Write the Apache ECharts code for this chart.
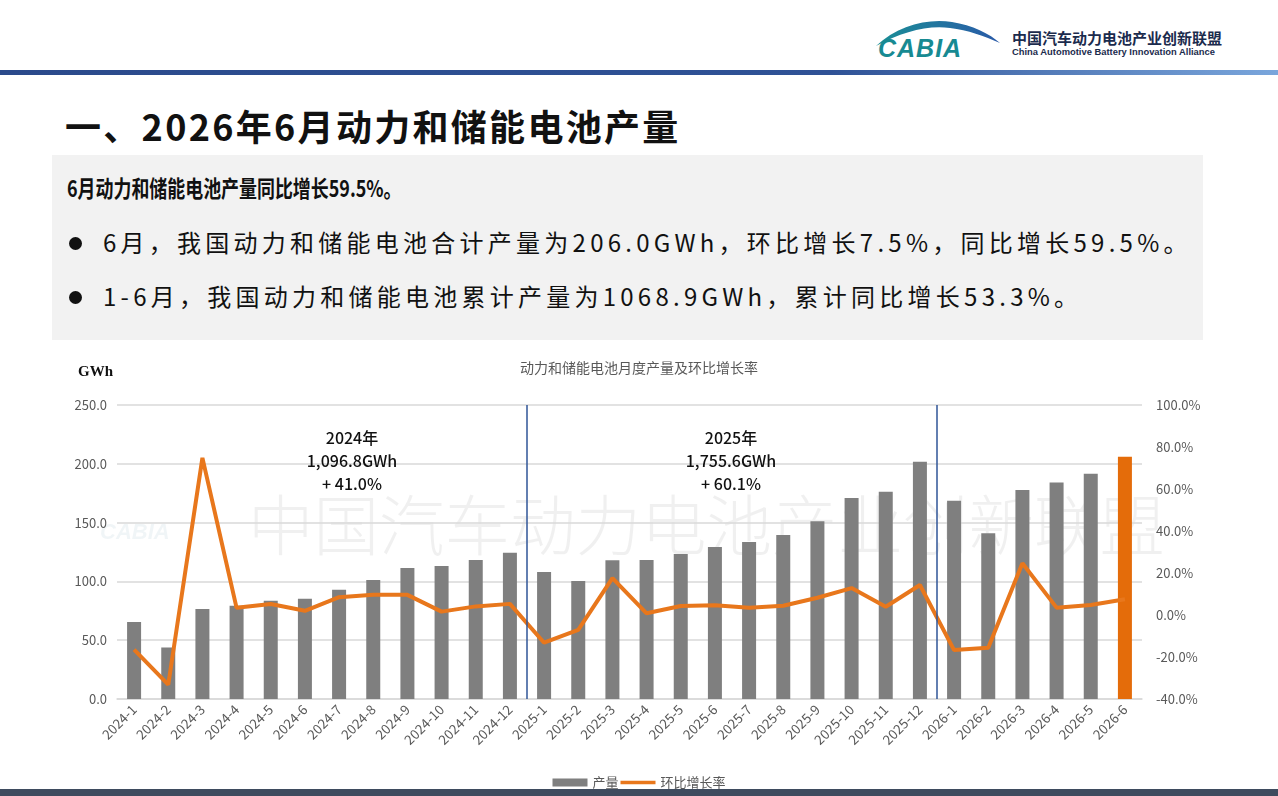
<!DOCTYPE html>
<html>
<head>
<meta charset="utf-8">
<script src="https://cdn.jsdelivr.net/npm/echarts@6/dist/echarts.min.js"></script>
<style>
  html, body { margin: 0; padding: 0; background: #fff; }
  body { width: 1278px; height: 796px; position: relative; overflow: hidden; font-family: "Noto Sans CJK SC", sans-serif; color: #111; }
  .topline { position: absolute; left: 0; top: 70px; width: 1278px; height: 5px; background: linear-gradient(to right, #2b4a8b 0%, #2f5296 65%, #7aa6dc 100%); }
  .logo { position: absolute; left: 872px; top: 12px; }
  .org-cn { position: absolute; left: 1012px; top: 29px; font-size: 15px; font-weight: bold; color: #1b2b4d; line-height: 18px; }
  .org-en { position: absolute; left: 1012px; top: 46px; font-family: "Liberation Sans", Arial, sans-serif; font-size: 9.4px; font-weight: bold; color: #1b2b4d; line-height: 11px; }
  .title { position: absolute; left: 65px; top: 106px; font-size: 36px; line-height: 38px; font-weight: bold; color: #111; letter-spacing: 2.3px; white-space: nowrap; }
  .box { position: absolute; left: 52px; top: 155px; width: 1151px; height: 185px; background: #f2f2f2; }
  .head { position: absolute; left: 67px; top: 175px; font-size: 23px; line-height: 24px; font-weight: bold; transform: scaleX(0.78); transform-origin: left center; white-space: nowrap; }
  .item { position: absolute; left: 103px; font-size: 24px; line-height: 26px; letter-spacing: 4.25px; white-space: nowrap; }
  .dot { position: absolute; left: 69px; width: 13px; height: 13px; border-radius: 50%; background: #111; }
  .footer { position: absolute; left: 0; top: 789px; width: 1278px; height: 7px; background: #3e4b5e; }
  #chart { position: absolute; left: 0; top: 0; width: 1278px; height: 796px; }
</style>
</head>
<body>
<div class="topline"></div>
<svg class="logo" width="135" height="50" viewBox="0 0 135 50">
  <defs>
    <linearGradient id="sw" x1="0" x2="1" y1="0" y2="0">
      <stop offset="0" stop-color="#1a8f96"/>
      <stop offset="1" stop-color="#2a5aa8"/>
    </linearGradient>
  </defs>
  <path d="M4 34 C 25 14, 55 6, 80 10 C 100 13, 118 22, 128 31 C 112 24, 96 18, 78 16 C 55 13, 30 20, 4 34 Z" fill="url(#sw)"/>
  <text x="6" y="45" font-family="Liberation Sans, Arial" font-size="25" font-weight="bold" font-style="italic" fill="#178a92" letter-spacing="1">CABIA</text>
</svg>
<div class="org-cn">中国汽车动力电池产业创新联盟</div>
<div class="org-en">China Automotive Battery Innovation Alliance</div>
<div class="title">一、2026年6月动力和储能电池产量</div>
<div class="box"></div>
<div class="head">6月动力和储能电池产量同比增长59.5%。</div>
<div class="dot" style="top:237px"></div>
<div class="item" style="top:229px">6月，我国动力和储能电池合计产量为206.0GWh，环比增长7.5%，同比增长59.5%。</div>
<div class="dot" style="top:291px"></div>
<div class="item" style="top:283px">1-6月，我国动力和储能电池累计产量为1068.9GWh，累计同比增长53.3%。</div>
<div class="footer"></div>
<div id="chart"></div>
<script>
const months = [
  "2024-1", "2024-2", "2024-3", "2024-4", "2024-5", "2024-6",
  "2024-7", "2024-8", "2024-9", "2024-10", "2024-11", "2024-12",
  "2025-1", "2025-2", "2025-3", "2025-4", "2025-5", "2025-6",
  "2025-7", "2025-8", "2025-9", "2025-10", "2025-11", "2025-12",
  "2026-1", "2026-2", "2026-3", "2026-4", "2026-5", "2026-6"
];
// 产量 (GWh)
const output = [
  65.5, 43.8, 76.5, 79.2, 83.5, 85.2, 92.8, 101.2, 111.5, 113.2, 118.2, 124.4,
  108.0, 100.3, 118.0, 118.2, 123.3, 129.2, 133.6, 139.5, 151.2, 171.0, 176.3, 201.8,
  168.5, 141.0, 177.8, 184.0, 191.6, 206.0
];
// 环比增长率 (%)
const mom = [
  -16.5, -33.2, 74.8, 3.4, 5.2, 2.0, 8.5, 9.6, 9.6, 1.6, 4.1, 5.3,
  -13.2, -7.1, 17.6, 0.8, 4.3, 4.6, 3.5, 4.4, 8.2, 12.8, 3.9, 14.3,
  -16.7, -15.6, 24.6, 3.5, 4.8, 7.5
];
// 年份分隔线（位于两个类目之间）
const yearBreaks = [11.5, 23.5];
const yearNames = ["2024年", "2025年"];
const yearTotals = ["1,096.8GWh", "1,755.6GWh"];
const yearGrowth = ["+ 41.0%", "+ 60.1%"];

const FONT = '"Noto Sans CJK SC", sans-serif';
const gray = "#595959";

const myChart = echarts.init(document.getElementById("chart"), null, { renderer: "canvas" });

const annoX = [352, 731];

const option = {
  backgroundColor: "transparent",
  animation: false,
  textStyle: { fontFamily: FONT },
  title: {
    text: "动力和储能电池月度产量及环比增长率",
    left: "center",
    top: 356,
    textStyle: { fontSize: 14, fontWeight: "normal", color: gray, fontFamily: FONT }
  },
  legend: {
    data: [
      { name: "产量", icon: "rect" },
      { name: "环比增长率", icon: "path://M0,0h40v4h-40z" }
    ],
    top: 771,
    left: "center",
    itemWidth: 35,
    itemHeight: 8,
    itemGap: 2,
    symbolKeepAspect: true,
    textStyle: { fontSize: 13, color: gray, fontFamily: FONT }
  },
  grid: { left: 117, right: 136, top: 405, bottom: 97 },
  xAxis: [
    {
      type: "category",
      data: months,
      axisLine: { lineStyle: { color: "#d9d9d9", width: 1.5 } },
      axisTick: { show: false },
      axisLabel: { rotate: 45, interval: 0, fontSize: 13.5, color: gray, margin: 8 }
    },
    { type: "value", min: -0.5, max: months.length - 0.5, show: false }
  ],
  yAxis: [
    {
      type: "value",
      min: 0,
      max: 250,
      interval: 50,
      axisLine: { show: false },
      axisTick: { show: false },
      axisLabel: { formatter: (v) => v.toFixed(1), fontSize: 13, color: gray, margin: 10 },
      splitLine: { lineStyle: { color: "#d9d9d9", width: 1.5 } }
    },
    {
      type: "value",
      min: -40,
      max: 100,
      interval: 20,
      position: "right",
      axisLine: { show: false },
      axisTick: { show: false },
      axisLabel: { formatter: (v) => v.toFixed(1) + "%", fontSize: 13, color: gray, margin: 14 },
      splitLine: { show: false }
    }
  ],
  series: [
    {
      name: "产量",
      type: "bar",
      barWidth: 14,
      itemStyle: { color: "#7f7f7f" },
      data: output.map((v, i) => i === output.length - 1 ? { value: v, itemStyle: { color: "#e46c0a" } } : v),
      z: 2
    },
    {
      name: "环比增长率",
      type: "line",
      yAxisIndex: 1,
      data: mom,
      symbol: "none",
      itemStyle: { color: "#e8771c" },
      lineStyle: { color: "#e8771c", width: 4 },
      z: 4
    },
    {
      name: "分隔",
      type: "line",
      xAxisIndex: 1,
      yAxisIndex: 0,
      data: [],
      silent: true,
      markLine: {
        symbol: ["none", "none"],
        silent: true,
        label: { show: false },
        lineStyle: { color: "#2f5597", width: 1.5, type: "solid" },
        data: yearBreaks.map((v) => ({ xAxis: v }))
      },
      z: 3
    }
  ],
  graphic: [
    {
      type: "text",
      left: 78,
      top: 365,
      silent: true,
      style: { text: "GWh", font: 'bold 15px "Liberation Serif"', fill: "#111" }
    },
    {
      type: "text",
      left: 248,
      top: 492,
      z: 0,
      silent: true,
      style: { text: "中国汽车动力电池产业创新联盟", font: '300 65.5px "Noto Sans CJK SC"', fill: "rgba(0,0,0,0.06)" }
    },
    {
      type: "text",
      left: 100,
      top: 522,
      z: 0,
      silent: true,
      style: { text: "CABIA", font: 'italic bold 22px "Liberation Sans"', fill: "rgba(0,80,120,0.06)" }
    }
  ].concat(yearNames.map((n, i) => ({
    type: "text",
    x: annoX[i],
    y: 426,
    z: 5,
    silent: true,
    style: {
      text: n + "\n" + yearTotals[i] + "\n" + yearGrowth[i],
      font: '500 16px "Noto Sans CJK SC"',
      lineHeight: 23,
      fill: "#111",
      align: "center"
    }
  })))
};

myChart.setOption(option);
</script>
</body>
</html>
